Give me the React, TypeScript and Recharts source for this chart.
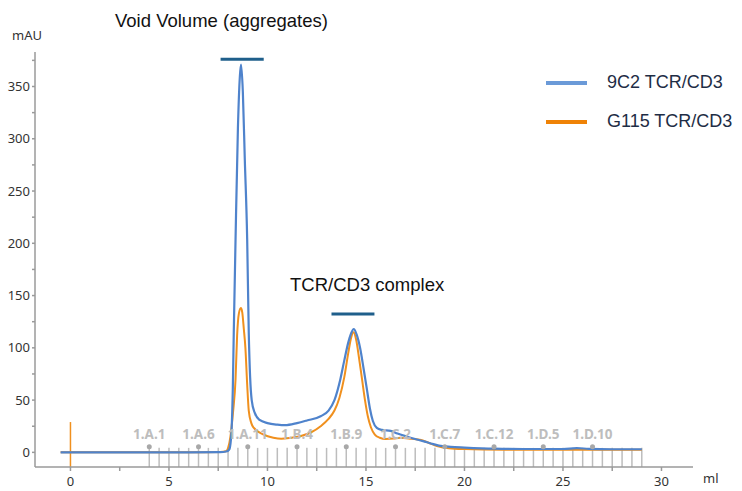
import React from 'react';
import { LineChart, Line, XAxis, YAxis, ReferenceLine, ReferenceDot } from 'recharts';

// elution volume (ml) / absorbance (mAU) pairs
const sample9C2: [number, number][] = [
    [-0.5, 0], [2, 0], [4, 0], [6, 0], [7.6, 0.2], [7.9, 0.8], [8.05, 2.5], [8.12, 8],
    [8.18, 22], [8.24, 60], [8.29, 115], [8.38, 204], [8.5, 310], [8.6, 360], [8.66, 371],
    [8.75, 345], [8.85, 280], [8.97, 204], [9.05, 115], [9.12, 72], [9.2, 50], [9.35, 38],
    [9.6, 31], [10, 28], [10.5, 26.5], [10.9, 26], [11.5, 28], [12, 30.5], [12.7, 34.5],
    [13.1, 40], [13.4, 50], [13.7, 70], [13.9, 88], [14.1, 105], [14.25, 114], [14.38, 118],
    [14.52, 113], [14.7, 100], [14.88, 80], [15.05, 60], [15.2, 42], [15.35, 30], [15.55, 23.5],
    [15.8, 21.5], [16.25, 20.5], [16.6, 18], [17.1, 15], [17.5, 12.8], [17.9, 10.8], [18.3, 8.5],
    [18.7, 6.5], [19.3, 5.3], [20, 4.6], [21.5, 3.5], [23, 3.2], [25, 3.2], [25.7, 4],
    [26.3, 3.4], [27.5, 3], [29, 3],
];

const sampleG115: [number, number][] = [
    [-0.5, 0], [2, 0], [4, 0], [6, 0], [7.6, 0.3], [7.9, 1], [8.0, 4], [8.12, 15], [8.25, 38],
    [8.38, 70], [8.46, 112], [8.55, 133], [8.65, 138], [8.72, 134], [8.8, 118], [8.88, 100],
    [8.97, 65], [9.05, 40], [9.18, 28], [9.3, 23.6], [9.8, 17], [10.3, 14], [10.7, 13],
    [11.2, 14], [11.7, 15.6], [12.2, 19], [12.7, 25], [13.1, 32], [13.4, 40], [13.65, 52],
    [13.9, 72], [14.1, 95], [14.25, 110], [14.37, 115], [14.5, 108], [14.65, 90], [14.8, 70],
    [14.95, 50], [15.1, 34], [15.25, 24], [15.45, 17], [15.7, 14], [16, 12.8], [16.4, 13.2],
    [16.75, 14], [17.3, 13], [17.8, 11.8], [18.2, 9], [18.6, 6], [19.2, 4], [20, 3.2],
    [22, 2.6], [25, 2.5], [29, 2.5],
];

const volumeTicks = [0, 2.5, 5, 7.5, 10, 12.5, 15, 17.5, 20, 22.5, 25, 27.5, 30];
const absTicks = [0, 25, 50, 75, 100, 125, 150, 175, 200, 225, 250, 275, 300, 325, 350, 375];

// fraction collector tubes (ml)
const fractionPositions = [
    4, 4.5, 5, 5.5, 6, 6.5, 7, 7.5, 8, 8.5, 9, 9.5, 10, 10.5, 11, 11.5, 12, 12.5, 13, 13.5,
    14, 14.5, 15, 15.5, 16, 16.5, 17, 17.5, 18, 18.5, 19, 19.5, 20, 20.5, 21, 21.5, 22, 22.5,
    23, 23.5, 24, 24.5, 25, 25.5, 26, 26.5, 27, 27.5, 28, 28.5, 29,
];
const fractionNames = ['1.A.1', '1.A.6', '1.A.11', '1.B.4', '1.B.9', '1.C.2', '1.C.7', '1.C.12', '1.D.5', '1.D.10'];
const fractionNamePositions = [4, 6.5, 9, 11.5, 14, 16.5, 19, 21.5, 24, 26.5];

const seriesNames = ['9C2 TCR/CD3', 'G115 TCR/CD3'];

const BLUE = '#4f83cc';
const ORANGE = '#f0901e';
const BAR = '#1f5f8b';
const AXIS = '#9a9a9a';
const TICK_FONT = '"Noto Sans", sans-serif';

const toPoints = (pairs: [number, number][]) => pairs.map(([ml, mau]) => ({ ml, mau }));

const XTick = (props: any) => {
    const { x, y, payload } = props;
    if (payload.value % 5 !== 0) return null;
    return (
        <text x={x} y={y} dy={12.5} textAnchor="middle" fill="#333" fontSize={13} fontFamily={TICK_FONT}>
            {payload.value}
        </text>
    );
};

const YTick = (props: any) => {
    const { x, y, payload } = props;
    if (payload.value % 50 !== 0) return null;
    return (
        <text x={x} y={y} dy={4.5} textAnchor="end" fill="#333" fontSize={13} fontFamily={TICK_FONT}>
            {payload.value}
        </text>
    );
};

const LegendBox = () => (
    <div style={{ position: 'absolute', left: 546, top: 63, fontFamily: '"Liberation Sans", Arial, sans-serif', fontSize: 18, color: '#1e2d45' }}>
        {seriesNames.map((name, i) => (
            <div key={name} style={{ display: 'flex', alignItems: 'center', height: 39 }}>
                <div style={{ width: 41, height: 4, background: i === 0 ? '#6b9ad8' : '#ef8206', marginRight: 20 }} />
                <span>{name}</span>
            </div>
        ))}
    </div>
);

const annotationStyle: React.CSSProperties = {
    position: 'absolute',
    fontFamily: '"Liberation Sans", Arial, sans-serif',
    fontSize: 18.5,
    color: '#111',
    whiteSpace: 'nowrap',
    lineHeight: '20px',
};

export default function App() {
    return (
        <div style={{ position: 'absolute', left: 0, top: 0, width: 742, height: 491, background: '#fff' }}>
            <LineChart width={742} height={491} margin={{ top: 52, right: 49, bottom: 0, left: 0 }}>
                <XAxis
                    type="number"
                    dataKey="ml"
                    domain={[-1.8, 31.6]}
                    ticks={volumeTicks}
                    interval={0}
                    allowDataOverflow
                    stroke={AXIS}
                    strokeWidth={1.5}
                    tickSize={4}
                    tick={<XTick />}
                    height={24}
                />
                <YAxis
                    type="number"
                    domain={[-14, 383]}
                    ticks={absTicks}
                    interval={0}
                    allowDataOverflow
                    stroke={AXIS}
                    strokeWidth={1.5}
                    tickSize={3}
                    tick={<YTick />}
                    width={35}
                />
                {fractionPositions.map((f) => (
                    <ReferenceLine
                        key={`fr-${f}`}
                        segment={[{ x: f, y: -14 }, { x: f, y: 4.3 }]}
                        stroke="#bdbdbd"
                        strokeWidth={1.5}
                    />
                ))}
                {fractionNamePositions.map((f, i) => (
                    <ReferenceDot
                        key={`fd-${f}`}
                        x={f}
                        y={5.3}
                        r={2.5}
                        fill="#a8a8a8"
                        stroke="none"
                        label={{
                            value: fractionNames[i],
                            position: 'top',
                            offset: 5,
                            fill: '#bdbdbd',
                            fontSize: 13.5,
                            fontWeight: 'bold',
                            fontFamily: TICK_FONT,
                        }}
                    />
                ))}
                <ReferenceLine segment={[{ x: 0, y: -14 }, { x: 0, y: 29 }]} stroke={ORANGE} strokeWidth={1.5} />
                <ReferenceLine segment={[{ x: 7.62, y: 376 }, { x: 9.81, y: 376 }]} stroke={BAR} strokeWidth={3} />
                <ReferenceLine segment={[{ x: 13.25, y: 132.4 }, { x: 15.43, y: 132.4 }]} stroke={BAR} strokeWidth={3} />
                <Line
                    data={toPoints(sampleG115)}
                    dataKey="mau"
                    name={seriesNames[1]}
                    type="monotone"
                    stroke={ORANGE}
                    strokeWidth={2}
                    dot={false}
                    isAnimationActive={false}
                />
                <Line
                    data={toPoints(sample9C2)}
                    dataKey="mau"
                    name={seriesNames[0]}
                    type="monotone"
                    stroke={BLUE}
                    strokeWidth={2.2}
                    dot={false}
                    isAnimationActive={false}
                />
            </LineChart>
            <LegendBox />
            <div style={{ ...annotationStyle, left: 115, top: 11 }}>Void Volume (aggregates)</div>
            <div style={{ ...annotationStyle, left: 290, top: 275 }}>TCR/CD3 complex</div>
            <div style={{ position: 'absolute', left: 12, top: 26, fontFamily: TICK_FONT, fontSize: 13, color: '#333' }}>mAU</div>
            <div style={{ position: 'absolute', left: 703, top: 469, fontFamily: TICK_FONT, fontSize: 13, color: '#333' }}>ml</div>
        </div>
    );
}
